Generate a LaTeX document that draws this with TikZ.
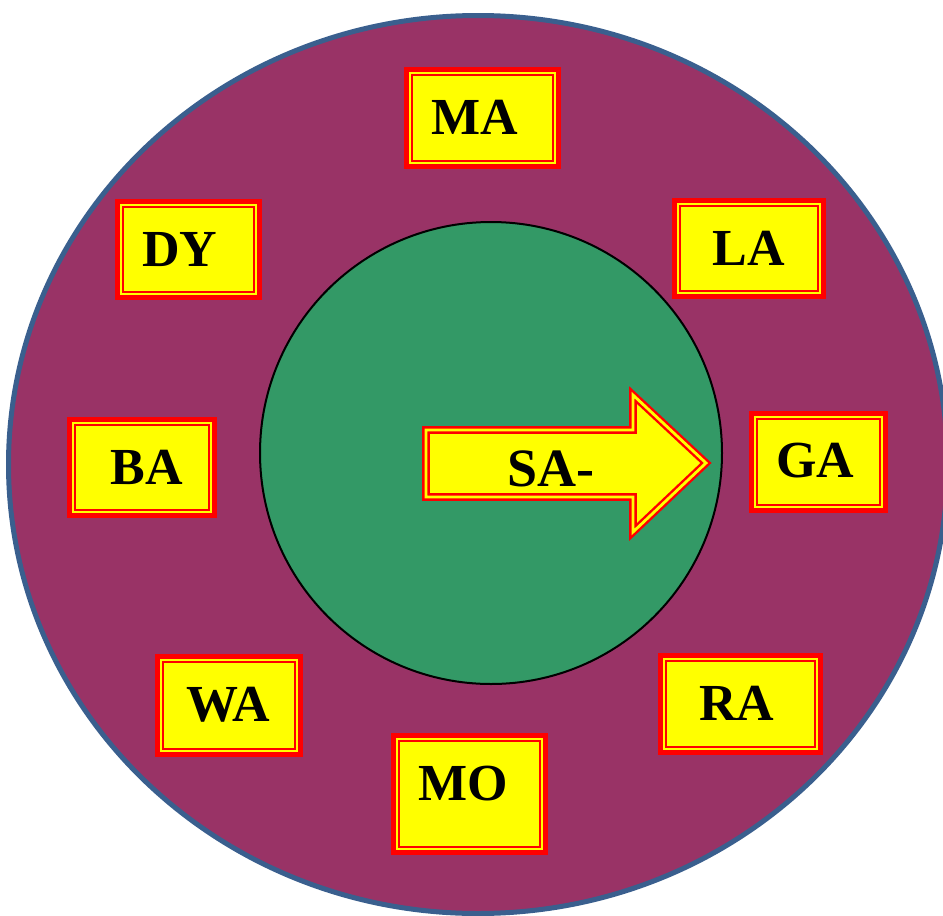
\documentclass[tikz,border=0pt]{standalone}
\usepackage{fontspec}
\setmainfont{Liberation Serif}
\usetikzlibrary{calc}
\definecolor{plum}{HTML}{993366}
\definecolor{rimblue}{HTML}{3A5F8E}
\definecolor{hubgreen}{HTML}{339966}
\definecolor{boxyellow}{RGB}{255,255,0}
\definecolor{boxred}{RGB}{255,0,0}
\tikzset{
	namebox/.style={draw=boxred, fill=boxyellow, line width=2.35pt, inner sep=0pt, outer sep=0pt},
	inner rim/.style={draw=boxred, line width=1pt},
	nametext/.style={font=\fontsize{26}{30}\selectfont\bfseries, inner sep=0pt},
	box size/.style 2 args={minimum width=#1pt, minimum height=#2pt}
}

\begin{document}
\begin{tikzpicture}[x=0.5pt,y=-0.5pt]
	\useasboundingbox (0,0) rectangle (943,916);
	\clip (0,0) rectangle (943,916);
	% rim and hub
	\draw[rimblue, line width=2.5pt, fill=plum] (478,464.5) ellipse [x radius=469.5, y radius=449];
	\node[circle, draw=black, line width=1pt, fill=hubgreen, minimum size=231pt, inner sep=0pt] (hub) at (491,453) {};
	% the eight boxes
	\node[namebox, box size={76.2}{48.7}] (MA) at (482.5,118) {};
	\node[namebox, box size={71.2}{48.2}] (DY) at (188.5,249.5) {};
	\node[namebox, box size={74.7}{48.2}] (LA) at (749,248.5) {};
	\node[namebox, box size={72.7}{48.2}] (BA) at (142,467.5) {};
	\node[namebox, box size={67.2}{48.7}] (GA) at (818.5,462) {};
	\node[namebox, box size={71.7}{49.2}] (WA) at (229,705.5) {};
	\node[namebox, box size={76.2}{58.7}] (MO) at (469.5,794) {};
	\node[namebox, box size={80.2}{48.7}] (RA) at (740.5,704) {};
	\foreach \b in {MA,DY,LA,BA,GA,WA,MO,RA}
		\draw[inner rim] ([shift={(2.7pt,-2.7pt)}]\b.north west) rectangle ([shift={(-2.7pt,2.7pt)}]\b.south east);
	\node[nametext] at ([shift={(-7.5,-1)}]MA.center) {MA};
	\node[nametext] at ([shift={(-8.5,0.5)}]DY.center) {DY};
	\node[nametext] at ([shift={(0,-0.5)}]LA.center) {LA};
	\node[nametext] at ([shift={(5,-0.5)}]BA.center) {BA};
	\node[nametext] at ([shift={(-3.5,-1)}]GA.center) {GA};
	\node[nametext] at ([shift={(-1,-0.5)}]WA.center) {WA};
	\node[nametext] at ([shift={(-6.5,-10)}]MO.center) {MO};
	\node[nametext] at ([shift={(-3.5,-1)}]RA.center) {RA};
	% arrow in the hub
	\draw[boxred, double=boxyellow, line width=1.2pt, double distance=1.4pt, fill=boxyellow]
		(426,430) -- (633,430) -- (633,395) -- (706,463) -- (633,532) -- (633,497) -- (426,497) -- cycle;
	\node[nametext, font=\fontsize{27}{31}\selectfont\bfseries] (SA) at (551,468.5) {SA-};
\end{tikzpicture}
\end{document}
